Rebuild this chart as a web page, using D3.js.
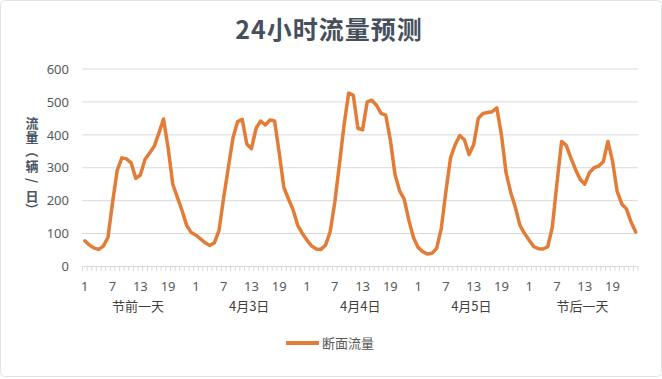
<!DOCTYPE html>
<html>
<head>
<meta charset="utf-8">
<script src="https://cdn.jsdelivr.net/npm/d3@7"></script>
<style>
  html, body { margin: 0; padding: 0; background: #fff; }
  svg { display: block; }
  text { font-family: "Noto Sans CJK SC", "Noto Sans", sans-serif; }
</style>
</head>
<body>
<svg id="chart" width="662" height="379"></svg>
<script>
const title = "24小时流量预测";
const yLabelChars = ["流", "量", "（", "辆", "/", "日", "）"];
const seriesName = "断面流量";
const dayNames = ["节前一天", "4月3日", "4月4日", "4月5日", "节后一天"];
const hours = d3.range(1, 25);
const hourTickLabels = [1, 7, 13, 19];
const yTicks = [0, 100, 200, 300, 400, 500, 600];

const day1 = [78, 65, 56, 52, 62, 88, 195, 292, 330, 327, 315, 268, 278, 325, 345, 365, 405, 448, 360, 250, 210, 170, 125, 103];
const day2 = [95, 84, 72, 64, 72, 110, 210, 300, 390, 440, 447, 372, 358, 420, 442, 430, 445, 442, 345, 240, 205, 172, 125, 100];
const day3 = [80, 62, 53, 52, 65, 105, 195, 310, 430, 527, 520, 420, 415, 500, 505, 490, 465, 460, 385, 280, 230, 205, 140, 88];
const day4 = [58, 45, 38, 40, 55, 115, 228, 330, 370, 398, 385, 340, 370, 450, 465, 468, 470, 482, 400, 285, 225, 180, 125, 100];
const day5 = [80, 60, 54, 53, 60, 120, 255, 380, 368, 330, 295, 265, 250, 285, 300, 305, 318, 380, 320, 228, 190, 175, 135, 105];
const dayValues = [day1, day2, day3, day4, day5];

const data = [];
dayValues.forEach((vals, d) => vals.forEach((v, h) => data.push({ day: d, hour: hours[h], idx: d * 24 + h, value: v })));

const svg = d3.select("#chart");
const W = 662, H = 379;

// outer border
svg.append("rect").attr("x", 0.5).attr("y", 0.5).attr("width", W - 1).attr("height", H - 3)
  .attr("rx", 4).attr("fill", "#fff").attr("stroke", "#dfe5e5");

const x = d3.scaleBand().domain(d3.range(data.length)).range([82.5, 638]).padding(0);
const y = d3.scaleLinear().domain([0, 600]).range([266.5, 69]);
const bw = x.bandwidth();
const cx = i => x(i) + bw / 2;

// gridlines
svg.append("g").selectAll("line").data(yTicks.filter(t => t > 0)).join("line")
  .attr("x1", x.range()[0]).attr("x2", x.range()[1])
  .attr("y1", d => y(d)).attr("y2", d => y(d))
  .attr("stroke", "#d9d9d9").attr("stroke-width", 1);

// y tick labels
const yAxis = d3.axisLeft(y).tickValues(yTicks).tickSize(0).tickPadding(0);
const gy = svg.append("g").attr("transform", "translate(69,0)").call(yAxis);
gy.select(".domain").remove();
gy.selectAll("text").attr("font-size", 13).attr("fill", "#595959")
  .style("font-family", "\"Noto Sans\", sans-serif");

// x axis line + category ticks
svg.append("line").attr("x1", x.range()[0]).attr("x2", x.range()[1])
  .attr("y1", y(0)).attr("y2", y(0)).attr("stroke", "#d9d9d9");
svg.append("g").selectAll("line").data(d3.range(data.length + 1)).join("line")
  .attr("x1", i => x.range()[0] + i * bw).attr("x2", i => x.range()[0] + i * bw)
  .attr("y1", y(0)).attr("y2", y(0) + 4.5)
  .attr("stroke", "#d9d9d9").attr("stroke-width", 1);

// hour tick labels
svg.append("g").selectAll("text").data(data.filter(d => hourTickLabels.includes(d.hour))).join("text")
  .attr("x", d => cx(d.idx)).attr("y", 291)
  .attr("text-anchor", "middle").attr("font-size", 13).attr("fill", "#595959")
  .style("font-family", "\"Noto Sans\", sans-serif")
  .text(d => d.hour);

// day labels
svg.append("g").selectAll("text").data(dayNames).join("text")
  .attr("x", (d, i) => (x(i * 24) + x(i * 24 + 23) + bw) / 2).attr("y", 311)
  .attr("text-anchor", "middle").attr("font-size", 13).attr("fill", "#404040")
  .text(d => d);

// line
const line = d3.line().x(d => cx(d.idx)).y(d => y(d.value)).curve(d3.curveLinear);
svg.append("path").datum(data).attr("d", line)
  .attr("fill", "none").attr("stroke", "#E27C36").attr("stroke-width", 3.5)
  .attr("stroke-linejoin", "round").attr("stroke-linecap", "round");

// title
svg.append("text").attr("x", 329).attr("y", 39).attr("text-anchor", "middle")
  .attr("font-size", 25).attr("font-weight", "bold").attr("fill", "#46505c")
  .attr("letter-spacing", 1).text(title);

// y label (vertical, one glyph per line)
const ylab = svg.append("g").attr("fill", "#4a5564").attr("font-size", 13).attr("font-weight", "bold");
const step = 14.6, y0 = 122;
yLabelChars.forEach((c, i) => {
  const cyv = y0 + i * step;
  const rot = (c === "（" || c === "）" || c === "/") ? 90 : 0;
  ylab.append("text")
    .attr("transform", `translate(32,${cyv}) rotate(${rot})`)
    .attr("text-anchor", "middle").attr("dominant-baseline", "central")
    .text(c);
});

// legend
svg.append("line").attr("x1", 286).attr("x2", 319).attr("y1", 343).attr("y2", 343)
  .attr("stroke", "#E27C36").attr("stroke-width", 4);
svg.append("text").attr("x", 322).attr("y", 348).attr("font-size", 13).attr("fill", "#595959")
  .text(seriesName);
</script>
</body>
</html>
